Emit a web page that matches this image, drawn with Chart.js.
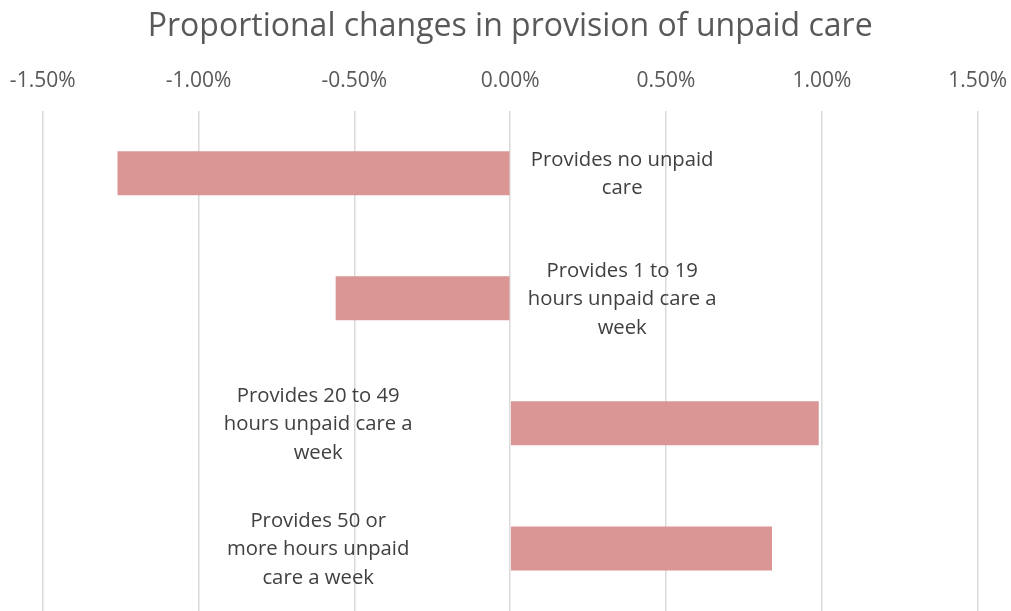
<!DOCTYPE html>
<html>
<head>
<meta charset="utf-8">
<script src="https://cdn.jsdelivr.net/npm/chart.js@4"></script>
<style>
  html, body { margin: 0; padding: 0; background: #ffffff; }
  #wrap { width: 1011px; height: 611px; }
</style>
</head>
<body>
<div id="wrap"><canvas id="c" width="1011" height="611"></canvas></div>
<script>
const categories = [
  ["Provides no unpaid", "care"],
  ["Provides 1 to 19", "hours unpaid care a", "week"],
  ["Provides 20 to 49", "hours unpaid care a", "week"],
  ["Provides 50 or", "more hours unpaid", "care a week"]
];
const changes = [-0.0126, -0.0056, 0.0099, 0.0084];
const axisMin = -0.015, axisMax = 0.015, axisStep = 0.005;

const FONT = "'Open Sans', sans-serif";

const sideLabels = {
  id: 'sideLabels',
  afterDatasetsDraw(chart) {
    const ctx = chart.ctx;
    const xs = chart.scales.x;
    const zero = xs.getPixelForValue(0);
    const meta = chart.getDatasetMeta(0);
    ctx.save();
    ctx.font = "20.3px " + FONT;
    ctx.fillStyle = "#404040";
    ctx.textAlign = "center";
    ctx.textBaseline = "middle";
    const lh = 28.5;
    meta.data.forEach((bar, i) => {
      const v = chart.data.datasets[0].data[i];
      const lines = chart.data.labels[i];
      const cx = v < 0 ? zero + 112 : zero - 192;
      const startY = bar.y + 1 - (lines.length - 1) * lh / 2;
      lines.forEach((t, k) => ctx.fillText(t, cx, startY + k * lh));
    });
    ctx.restore();
  }
};

new Chart(document.getElementById('c'), {
  type: 'bar',
  data: {
    labels: categories,
    datasets: [{
      data: changes,
      backgroundColor: '#d99694',
      borderWidth: 0,
      categoryPercentage: 1.0,
      barPercentage: 0.352
    }]
  },
  options: {
    indexAxis: 'y',
    responsive: false,
    animation: false,
    layout: { padding: { left: 42.7, right: 33.3, top: 0, bottom: 0 } },
    plugins: {
      legend: { display: false },
      tooltip: { enabled: false },
      title: {
        display: true,
        text: 'Proportional changes in provision of unpaid care',
        color: '#595959',
        font: { family: FONT, size: 32, weight: 'normal' },
        padding: { top: 8, bottom: 5 }
      }
    },
    scales: {
      x: {
        position: 'top',
        min: axisMin,
        max: axisMax,
        afterFit(scale) { scale.paddingLeft = 0; scale.paddingRight = 0; },
        ticks: {
          stepSize: axisStep,
          color: '#595959',
          font: { family: FONT, size: 21 },
          padding: 17,
          maxRotation: 0,
          callback: (v) => (v * 100).toFixed(2) + '%'
        },
        grid: { color: '#d9d9d9', lineWidth: 1.5, drawTicks: false },
        border: { display: false }
      },
      y: {
        display: false
      }
    }
  },
  plugins: [sideLabels]
});
</script>
</body>
</html>
